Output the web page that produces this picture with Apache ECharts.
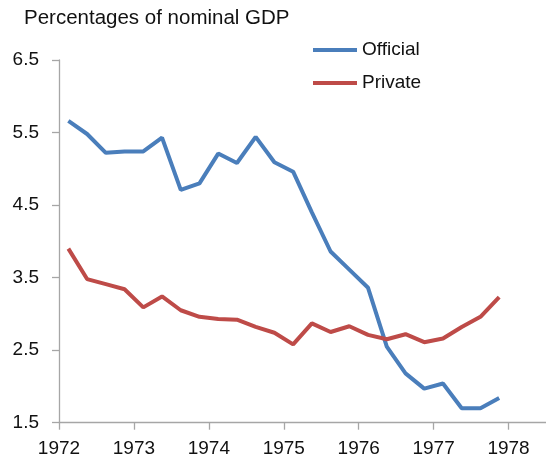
<!DOCTYPE html>
<html>
<head>
<meta charset="utf-8">
<script src="https://cdn.jsdelivr.net/npm/echarts@6/dist/echarts.min.js"></script>
<style>
  html, body { margin: 0; padding: 0; background: #fff; }
  #main { width: 546px; height: 460px; }
</style>
</head>
<body>
<div id="main"></div>
<script>
// mid-quarter dates, 1972Q1 .. 1977Q4
var quarters = [
  1972.125, 1972.375, 1972.625, 1972.875,
  1973.125, 1973.375, 1973.625, 1973.875,
  1974.125, 1974.375, 1974.625, 1974.875,
  1975.125, 1975.375, 1975.625, 1975.875,
  1976.125, 1976.375, 1976.625, 1976.875,
  1977.125, 1977.375, 1977.625, 1977.875
];
var official = [
  5.66, 5.48, 5.22, 5.24, 5.24, 5.43, 4.71, 4.80,
  5.21, 5.08, 5.44, 5.09, 4.96, 4.40, 3.86, 3.61,
  3.36, 2.55, 2.18, 1.97, 2.04, 1.70, 1.70, 1.84
];
var privateFlows = [
  3.90, 3.48, 3.41, 3.34, 3.09, 3.24, 3.05, 2.96,
  2.93, 2.92, 2.82, 2.74, 2.58, 2.87, 2.75, 2.83,
  2.71, 2.65, 2.72, 2.61, 2.66, 2.82, 2.96, 3.23
];
var yearTicks = [1972, 1973, 1974, 1975, 1976, 1977, 1978];

function pairs(xs, ys) {
  return xs.map(function (x, i) { return [x, ys[i]]; });
}

var font = 'Liberation Sans';
var chart = echarts.init(document.getElementById('main'));

chart.setOption({
  animation: false,
  title: {
    text: 'Percentages of nominal GDP',
    left: 24,
    top: 8,
    padding: 0,
    textStyle: { fontFamily: font, fontSize: 20.5, fontWeight: 'normal', color: '#111' }
  },
  legend: {
    orient: 'vertical',
    left: 313,
    top: 40,
    padding: 0,
    itemWidth: 44,
    itemHeight: 4,
    itemGap: 13,
    icon: 'rect',
    textStyle: { fontFamily: font, fontSize: 19, color: '#111', lineHeight: 20 },
    data: ['Official', 'Private']
  },
  grid: {
    left: 59,
    right: 0,
    top: 60,
    bottom: 37.3,
    containLabel: false
  },
  xAxis: {
    type: 'value',
    min: 1972,
    max: 1978.5,
    splitLine: { show: false },
    axisLine: { lineStyle: { color: '#a6a6a6', width: 1.3 } },
    axisTick: { customValues: yearTicks, length: 7, lineStyle: { color: '#a6a6a6', width: 1.3 } },
    axisLabel: {
      customValues: yearTicks,
      margin: 17,
      fontFamily: font,
      fontSize: 19,
      color: '#111',
      formatter: function (v) { return String(v); }
    }
  },
  yAxis: {
    type: 'value',
    min: 1.5,
    max: 6.5,
    interval: 1,
    splitLine: { show: false },
    axisLine: { show: true, lineStyle: { color: '#a6a6a6', width: 1.3 } },
    axisTick: { show: true, length: 7, lineStyle: { color: '#a6a6a6', width: 1.3 } },
    axisLabel: {
      margin: 20,
      fontFamily: font,
      fontSize: 19,
      color: '#111',
      formatter: function (v) { return v.toFixed(1); }
    }
  },
  series: [
    {
      name: 'Official',
      type: 'line',
      data: pairs(quarters, official),
      symbol: 'none',
      color: '#4a7ebb',
      lineStyle: { width: 4, color: '#4a7ebb' }
    },
    {
      name: 'Private',
      type: 'line',
      data: pairs(quarters, privateFlows),
      symbol: 'none',
      color: '#be4b48',
      lineStyle: { width: 4, color: '#be4b48' }
    }
  ]
});
</script>
</body>
</html>
